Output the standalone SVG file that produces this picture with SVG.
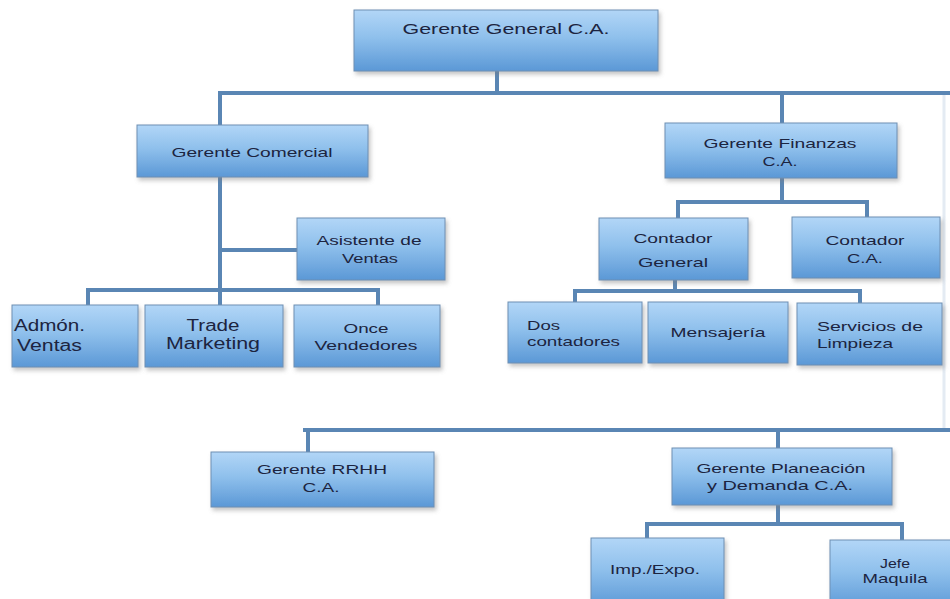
<svg xmlns="http://www.w3.org/2000/svg" width="950" height="599" viewBox="0 0 950 599">
<defs>
<linearGradient id="g" x1="0" y1="0" x2="0" y2="1">
<stop offset="0" stop-color="#b2d6f7"/>
<stop offset="0.45" stop-color="#8fc0ec"/>
<stop offset="1" stop-color="#5b98d6"/>
</linearGradient>
<filter id="sh" x="-10%" y="-10%" width="130%" height="140%">
<feDropShadow dx="2" dy="3" stdDeviation="2" flood-color="#7a7a7a" flood-opacity="0.45"/>
</filter>
</defs>
<style>
.box{fill:url(#g);stroke:#6e8fb3;stroke-width:1;filter:url(#sh)}
.t{font-family:"Liberation Sans",Arial,sans-serif;font-size:13px;fill:#1c2440;text-anchor:middle}
.l{text-anchor:start}
.big{font-size:16px}
.c{stroke:#5a86b4;stroke-width:4;fill:none;stroke-linecap:square}
.f{stroke:#e4ebf3;stroke-width:3;fill:none}
</style>
<rect width="950" height="599" fill="#ffffff"/>
<g id="connectors">
<line class="f" x1="944" y1="95" x2="944" y2="428"/>
<path class="c" d="M497 71V93M220 93H950M220 93V125M782 93V123"/>
<path class="c" d="M220 177V305M220 250H297M88 305V290H378V305"/>
<path class="c" d="M782 178V202M678 218V202H867V217"/>
<path class="c" d="M675 280V291M575 302V291H860V303"/>
<path class="c" d="M305 430H950M308 430V452M778 430V448"/>
<path class="c" d="M778 505V524M647 538V524H902V540"/>
</g>
<g id="gerente-general">
<rect class="box" x="354" y="10" width="304" height="61"/>
<text class="t" x="506" y="34" font-size="15" style="font-size:15px" textLength="207" lengthAdjust="spacingAndGlyphs">Gerente General C.A.</text>
</g>
<g id="gerente-comercial">
<rect class="box" x="137" y="125" width="231" height="52"/>
<text class="t" x="252" y="157" textLength="161" lengthAdjust="spacingAndGlyphs">Gerente Comercial</text>
</g>
<g id="asistente-ventas">
<rect class="box" x="297" y="218" width="148" height="62"/>
<text class="t" x="369" y="245" textLength="105" lengthAdjust="spacingAndGlyphs">Asistente de</text>
<text class="t" x="370" y="263" textLength="56" lengthAdjust="spacingAndGlyphs">Ventas</text>
</g>
<g id="admon-ventas">
<rect class="box" x="12" y="305" width="126" height="62"/>
<text class="t l big" x="14" y="331" textLength="71" lengthAdjust="spacingAndGlyphs">Admón.</text>
<text class="t l big" x="17" y="351" textLength="65" lengthAdjust="spacingAndGlyphs">Ventas</text>
</g>
<g id="trade-marketing">
<rect class="box" x="145" y="305" width="138" height="62"/>
<text class="t big" x="213" y="331" textLength="53" lengthAdjust="spacingAndGlyphs">Trade</text>
<text class="t big" x="213" y="349" textLength="94" lengthAdjust="spacingAndGlyphs">Marketing</text>
</g>
<g id="once-vendedores">
<rect class="box" x="294" y="305" width="146" height="62"/>
<text class="t" x="366" y="333" textLength="45" lengthAdjust="spacingAndGlyphs">Once</text>
<text class="t" x="366" y="350" textLength="103" lengthAdjust="spacingAndGlyphs">Vendedores</text>
</g>
<g id="gerente-finanzas">
<rect class="box" x="665" y="123" width="232" height="55"/>
<text class="t" x="780" y="148" textLength="153" lengthAdjust="spacingAndGlyphs">Gerente Finanzas</text>
<text class="t" x="780" y="166" textLength="35" lengthAdjust="spacingAndGlyphs">C.A.</text>
</g>
<g id="contador-general">
<rect class="box" x="599" y="218" width="149" height="62"/>
<text class="t" x="673" y="243" textLength="79" lengthAdjust="spacingAndGlyphs">Contador</text>
<text class="t" x="673" y="267" textLength="70" lengthAdjust="spacingAndGlyphs">General</text>
</g>
<g id="contador-ca">
<rect class="box" x="792" y="217" width="148" height="61"/>
<text class="t" x="865" y="245" textLength="79" lengthAdjust="spacingAndGlyphs">Contador</text>
<text class="t" x="865" y="263" textLength="36" lengthAdjust="spacingAndGlyphs">C.A.</text>
</g>
<g id="dos-contadores">
<rect class="box" x="508" y="302" width="134" height="61"/>
<text class="t l" x="527" y="330" textLength="33" lengthAdjust="spacingAndGlyphs">Dos</text>
<text class="t l" x="527" y="346" textLength="93" lengthAdjust="spacingAndGlyphs">contadores</text>
</g>
<g id="mensajeria">
<rect class="box" x="648" y="302" width="140" height="61"/>
<text class="t" x="718" y="337" textLength="95" lengthAdjust="spacingAndGlyphs">Mensajería</text>
</g>
<g id="servicios-limpieza">
<rect class="box" x="797" y="303" width="145" height="62"/>
<text class="t l" x="817" y="331" textLength="106" lengthAdjust="spacingAndGlyphs">Servicios de</text>
<text class="t l" x="817" y="348" textLength="76" lengthAdjust="spacingAndGlyphs">Limpieza</text>
</g>
<g id="gerente-rrhh">
<rect class="box" x="211" y="452" width="223" height="55"/>
<text class="t" x="322" y="474" textLength="130" lengthAdjust="spacingAndGlyphs">Gerente RRHH</text>
<text class="t" x="321" y="492" textLength="37" lengthAdjust="spacingAndGlyphs">C.A.</text>
</g>
<g id="gerente-planeacion">
<rect class="box" x="672" y="448" width="220" height="57"/>
<text class="t" x="781" y="473" textLength="169" lengthAdjust="spacingAndGlyphs">Gerente Planeación</text>
<text class="t" x="780" y="490" textLength="146" lengthAdjust="spacingAndGlyphs">y Demanda C.A.</text>
</g>
<g id="imp-expo">
<rect class="box" x="591" y="538" width="133" height="70"/>
<text class="t" x="655" y="574" textLength="90" lengthAdjust="spacingAndGlyphs">Imp./Expo.</text>
</g>
<g id="jefe-maquila">
<rect class="box" x="830" y="540" width="130" height="70"/>
<text class="t" x="895" y="568" textLength="30" lengthAdjust="spacingAndGlyphs">Jefe</text>
<text class="t" x="895" y="583" textLength="65" lengthAdjust="spacingAndGlyphs">Maquila</text>
</g>
</svg>
